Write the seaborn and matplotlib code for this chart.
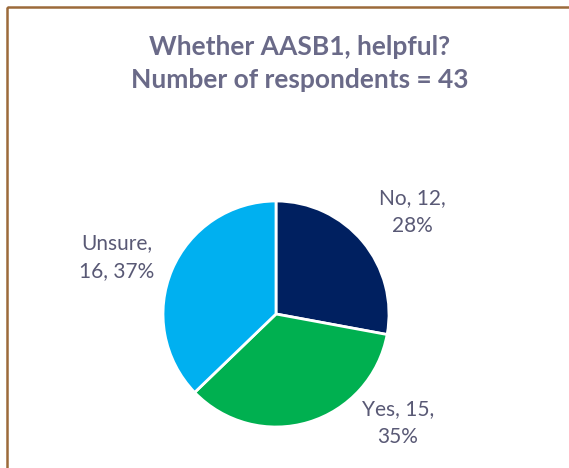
import matplotlib
matplotlib.use("Agg")
import matplotlib.pyplot as plt
from matplotlib.patches import Rectangle
import seaborn as sns

categories = ["No", "Yes", "Unsure"]
counts = [12, 15, 16]
percents = ["28%", "35%", "37%"]
title_lines = ["Whether AASB1, helpful?", "Number of respondents = 43"]

sns.set_theme(style="white")
plt.rcParams['font.family'] = ['Lato', 'DejaVu Sans']

colors = ["#002060", "#00B050", "#00B0F0"]
text_color = "#595975"

W, H = 569, 468
fig = plt.figure(figsize=(W / 100, H / 100), dpi=100)
fig.patch.set_facecolor("white")
ax = fig.add_axes([0, 0, 1, 1])


def fy(y):
    return H - y


cx, cy, r = 276, 314, 113
wedges, _ = ax.pie(counts, colors=colors, startangle=90, counterclock=False,
                   center=(cx, fy(cy)), radius=r,
                   wedgeprops=dict(edgecolor="white", linewidth=2))
ax.set_xlim(0, W)
ax.set_ylim(0, H)
ax.set_aspect("equal")
ax.axis("off")

# border
ax.add_patch(Rectangle((7, fy(7)), W + 20, -(H + 20), fill=False,
                       edgecolor="#9C6A3A", linewidth=1.8, clip_on=False))

ax.text(300, fy(47), title_lines[0], ha="center", va="center", fontsize=19,
        fontweight="bold", color="#6A6A88")
ax.text(300, fy(80), title_lines[1], ha="center", va="center", fontsize=19,
        fontweight="bold", color="#6A6A88")

label_pos = {"No": (412, 212), "Yes": (398, 423), "Unsure": (117, 257)}
for cat, n, p in zip(categories, counts, percents):
    if cat == "Unsure":
        txt = f"{cat},\n{n}, {p}"
    else:
        txt = f"{cat}, {n},\n{p}"
    x, y = label_pos[cat]
    ax.text(x, fy(y), txt, ha="center", va="center", fontsize=15, color=text_color,
            linespacing=1.45)

fig.savefig("out.png", dpi=100)
